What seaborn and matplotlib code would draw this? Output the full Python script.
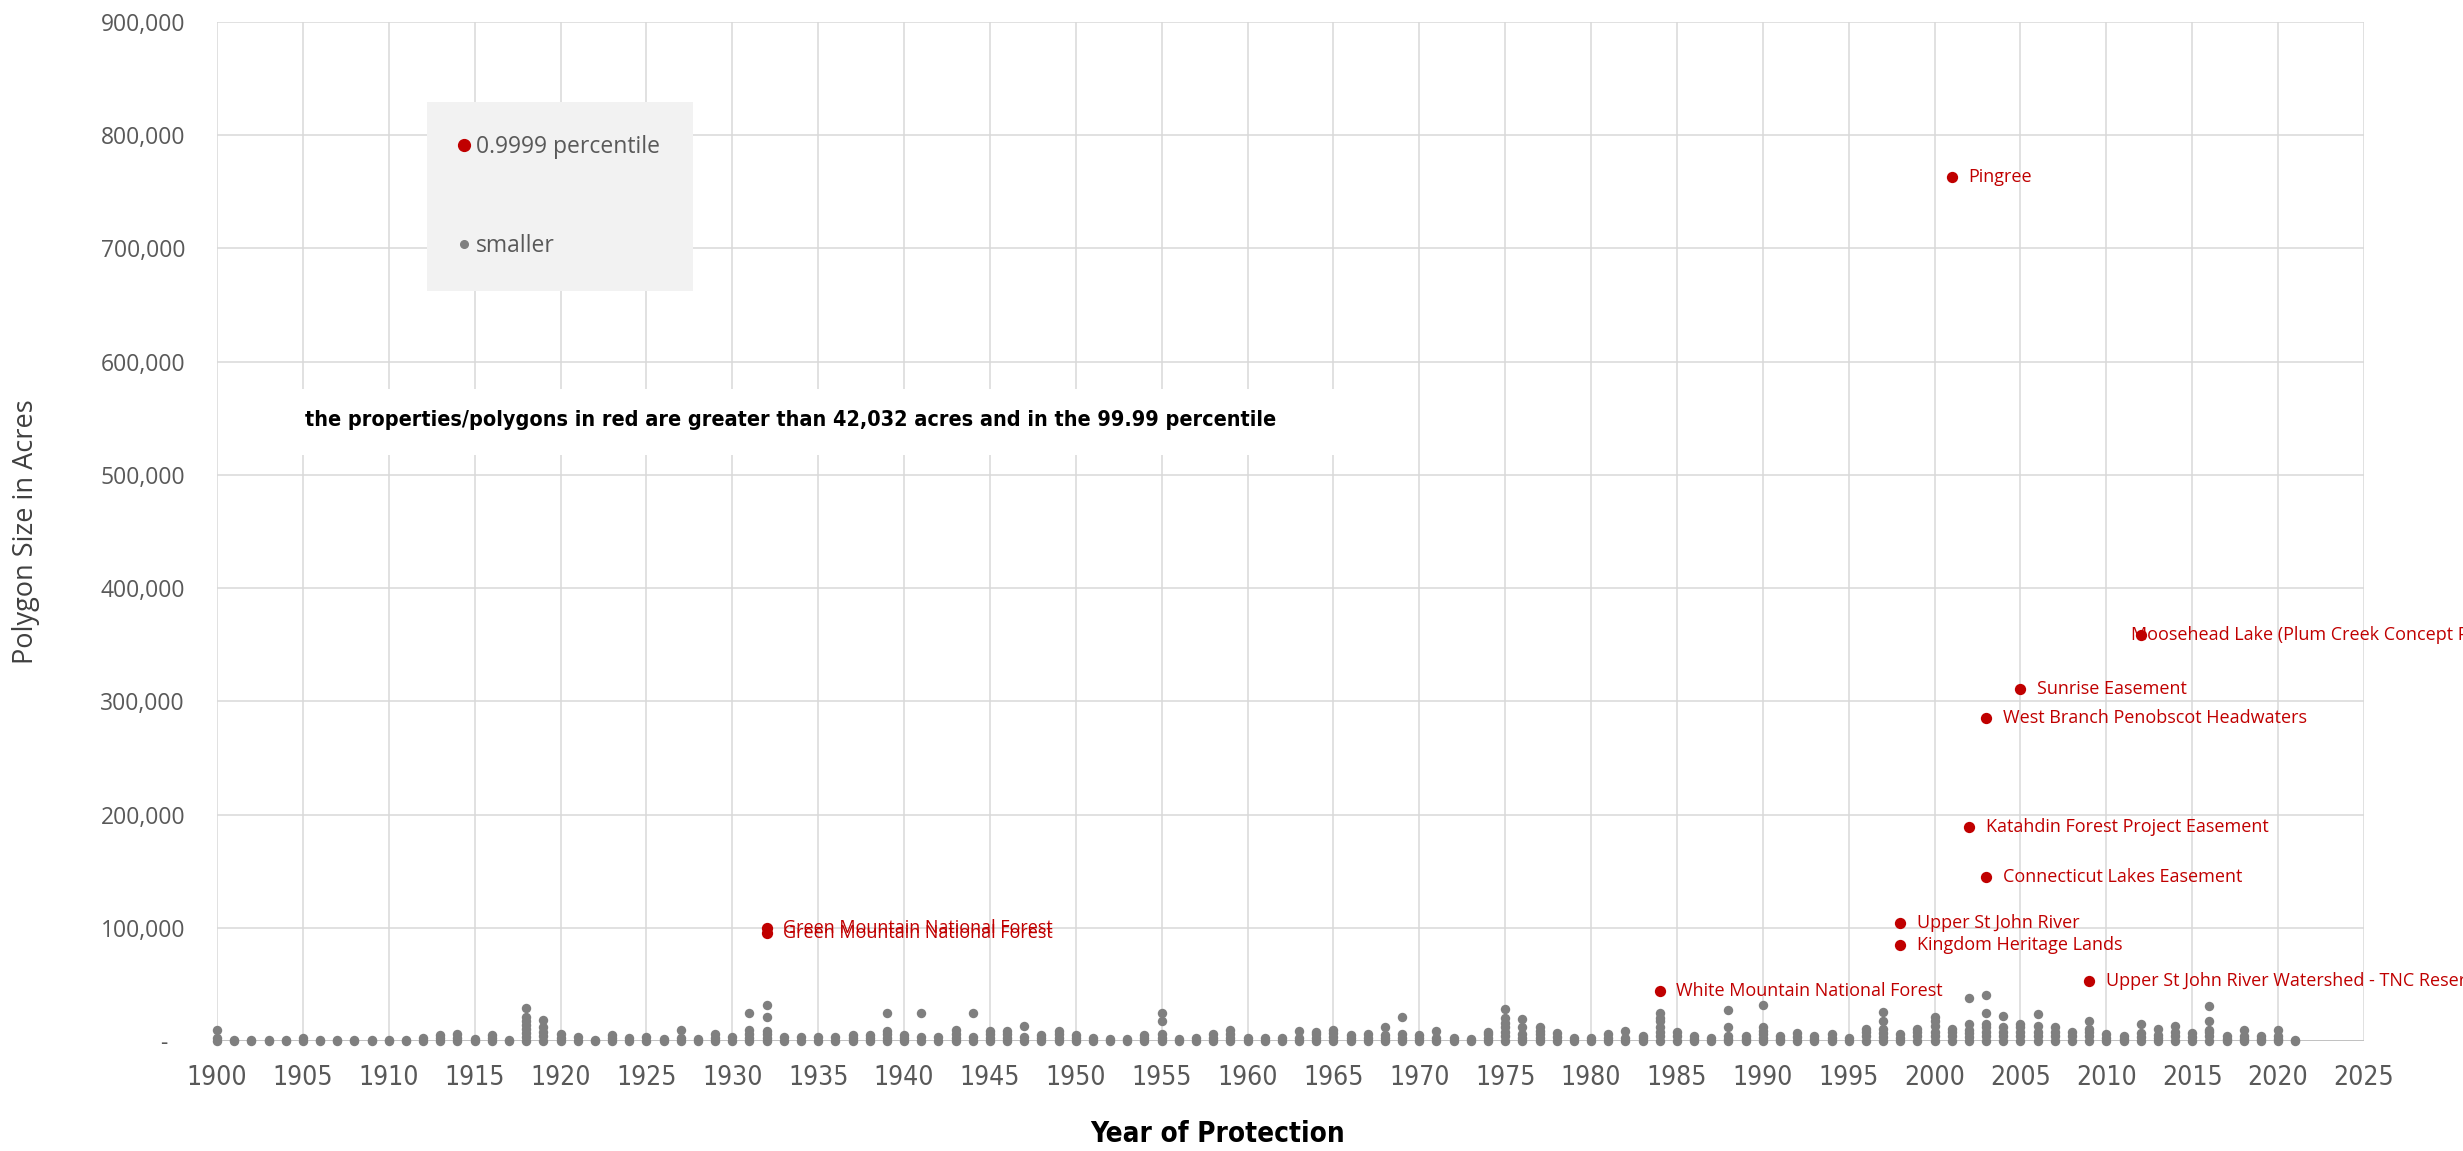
import matplotlib
matplotlib.use("Agg")
import matplotlib.pyplot as plt
import matplotlib.transforms as mtransforms
from matplotlib.lines import Line2D
from matplotlib.patches import Rectangle
from matplotlib.font_manager import FontProperties
import numpy as np
import pandas as pd
import seaborn as sns

# ---------------- data ----------------
years = list(range(1900, 2022))

# acres of the smaller polygons, one list per year (1900 .. 2021)
grey_values = [
    # 1900-1909
    [0, 2500, 9500], [0, 1000], [0, 1000], [0, 1000], [0, 1000],
    [0, 2500], [0, 1000], [0, 1000], [0, 1000], [0, 1000],
    # 1910-1919
    [0, 1000], [0, 1000], [0, 2500], [0, 2500, 5000], [0, 3000, 6500],
    [0, 1500], [0, 2500, 5000], [0, 1000],
    [0, 3500, 7000, 10500, 14000, 17500, 21000, 29500],
    [0, 4000, 8000, 12000, 18500],
    # 1920-1929
    [0, 3000, 6500], [0, 3500], [0, 1000], [0, 2500, 5000], [0, 2500],
    [0, 3500], [0, 1500], [0, 2500, 9500], [0, 2000], [0, 3000, 6500],
    # 1930-1939
    [0, 3500], [0, 3000, 6000, 9500, 24500], [0, 3000, 6000, 8500, 21500, 31500],
    [0, 3500], [0, 3500], [0, 3500], [0, 3500], [0, 3000, 5500], [0, 3000, 5500],
    [0, 3000, 6000, 9000, 25000],
    # 1940-1949
    [0, 3000, 5500], [0, 3500, 25000], [0, 3500], [0, 3000, 6000, 10000],
    [0, 3500, 25000], [0, 3000, 6000, 9000], [0, 3000, 6000, 9000],
    [0, 3500, 13000], [0, 3000, 5500], [0, 3000, 6000, 8500],
    # 1950-1959
    [0, 2500, 5000], [0, 3000], [0, 2000], [0, 2000], [0, 2500, 5500],
    [0, 3000, 6000, 18000, 25000], [0, 2000], [0, 3000], [0, 3000, 6000],
    [0, 3000, 6500, 10000],
    # 1960-1969
    [0, 3000], [0, 3000], [0, 3000], [0, 3000, 9000], [0, 3000, 6000, 8000],
    [0, 3500, 7000, 10000], [0, 2500, 5000], [0, 3000, 6000],
    [0, 2500, 5000, 12000], [0, 3000, 6000, 21000],
    # 1970-1979
    [0, 2500, 5000], [0, 3000, 9000], [0, 3000], [0, 2000], [0, 3000, 6000, 8000],
    [0, 4000, 8000, 12000, 16000, 20000, 28000], [0, 3000, 6000, 12000, 19000],
    [0, 3000, 6000, 9000, 12000], [0, 3500, 7000], [0, 3000],
    # 1980-1989
    [0, 3000], [0, 3000, 6500], [0, 3000, 9000], [0, 2500, 4500],
    [0, 4000, 8000, 12000, 18000, 20500, 25000], [0, 4000, 8000], [0, 2000, 4000],
    [0, 2500], [0, 2000, 4500, 12500, 27000], [0, 2000, 4000],
    # 1990-1999
    [0, 3000, 6000, 9000, 12500, 32000], [0, 2000, 4000], [0, 3500, 7000],
    [0, 2000, 4000], [0, 3000, 6000], [0, 2500], [0, 4000, 8000, 11000],
    [0, 3500, 7000, 11000, 18000, 26000], [0, 3000, 6000], [0, 4000, 8000, 11000],
    # 2000-2009
    [0, 4000, 8000, 13000, 17500, 21000], [0, 4000, 8000, 11000],
    [0, 3500, 7000, 10000, 15000, 38000], [0, 4000, 8000, 12000, 15000, 25000, 41000],
    [0, 4000, 8000, 12500, 22000], [0, 4000, 8000, 12000, 15000],
    [0, 4000, 8000, 13000, 23500], [0, 4000, 8000, 12500], [0, 4000, 8000],
    [0, 4000, 8000, 11000, 17500],
    # 2010-2021
    [0, 3000, 6000], [0, 2000, 4000], [0, 3500, 7000, 15000], [0, 2500, 5000, 11000],
    [0, 4000, 8000, 13000], [0, 3500, 7000], [0, 4000, 8000, 10000, 18000, 31000],
    [0, 2000, 4000], [0, 2000, 4000, 10000], [0, 2000, 4000], [0, 2000, 4000, 10000],
    [0, 1000],
]
assert len(grey_values) == len(years)

red_names = [
    "Pingree",
    "Moosehead Lake (Plum Creek Concept Plan)",
    "Sunrise Easement",
    "West Branch Penobscot Headwaters",
    "Katahdin Forest Project Easement",
    "Connecticut Lakes Easement",
    "Upper St John River",
    "Kingdom Heritage Lands",
    "Upper St John River Watershed - TNC Reserve",
    "White Mountain National Forest",
    "Green Mountain National Forest",
    "Green Mountain National Forest",
]
red_years = [2001, 2012, 2005, 2003, 2002, 2003, 1998, 1998, 2009, 1984, 1932, 1932]
red_acres = [763000, 359000, 311000, 285000, 189000, 145000, 104000, 85000, 53000, 44000, 100000, 95000]

x_ticks = list(range(1900, 2030, 5))
y_ticks = list(range(0, 1000000, 100000))
y_tick_labels = ["-" if v == 0 else f"{v:,}" for v in y_ticks]

legend_labels = ["0.9999 percentile", "smaller"]
note_text = "the properties/polygons in red are greater than 42,032 acres and in the 99.99 percentile"

# ---------------- frame ----------------
rows = []
for yr, vals in zip(years, grey_values):
    for v in vals:
        rows.append({"year": yr, "acres": v, "group": "smaller"})
for nm, yr, v in zip(red_names, red_years, red_acres):
    rows.append({"year": yr, "acres": v, "group": "0.9999 percentile"})
df = pd.DataFrame(rows)

sns.set_style("white")
plt.rcParams["font.family"] = ["Open Sans", "DejaVu Sans"]

RED = "#c00000"
GREY = "#7f7f7f"
GRID = "#d9d9d9"
narrow = ["Liberation Sans Narrow", "DejaVu Sans"]

fig = plt.figure(figsize=(24.63, 11.51), dpi=100)
ax = fig.add_axes([0.0881, 0.0956, 0.8717, 0.8853])

grey_df = df[df["group"] == "smaller"]
red_df = df[df["group"] != "smaller"]
sns.scatterplot(data=grey_df, x="year", y="acres", color=GREY, s=46,
                linewidth=0, ax=ax, legend=False, zorder=3, clip_on=False)
sns.scatterplot(data=red_df, x="year", y="acres", color=RED, s=66,
                linewidth=0, ax=ax, legend=False, zorder=4, clip_on=False)

ax.set_xlim(1900, 2025)
ax.set_ylim(0, 900000)
ax.set_xticks(x_ticks)
ax.set_yticks(y_ticks)
ax.set_yticklabels(y_tick_labels)
ax.set_xticklabels([str(t) for t in x_ticks])

for s in ax.spines.values():
    s.set_visible(False)
ax.set_axisbelow(True)
ax.grid(True, color=GRID, linewidth=1.1)
ax.axhline(0, color="#bfbfbf", linewidth=1.3, zorder=0.6)

ax.tick_params(axis="both", length=0)
ax.tick_params(axis="y", pad=23, labelsize=16.5, labelcolor="#595959")
ax.tick_params(axis="x", pad=17, labelsize=19, labelcolor="#595959")
for lab in ax.get_xticklabels():
    lab.set_fontfamily(narrow)
    lab.set_fontstretch("condensed")

# shift the "-" zero label left like the accounting format
zero_tick = ax.yaxis.get_major_ticks()[0]
zero_tick.label1.set_transform(zero_tick.label1.get_transform() +
                               mtransforms.ScaledTranslation(-0.18, 0, fig.dpi_scale_trans))

ax.set_ylabel("Polygon Size in Acres", fontsize=19.5, color="#404040")
ax.yaxis.set_label_coords(-0.0824, 0.5)
ax.set_xlabel("Year of Protection", fontsize=20, fontweight="bold", color="#000000",
              family=narrow, fontstretch="condensed")
ax.xaxis.set_label_coords(0.466, -0.0775)

# red labels
for nm, yr, v in zip(red_names, red_years, red_acres):
    dx = -7 if nm.startswith("Moosehead") else 12
    ax.annotate(nm, (yr, v), xytext=(dx, 0), textcoords="offset points",
                ha="left", va="center", color=RED, fontsize=13,
                annotation_clip=False, zorder=5)

# note box
ax.add_patch(Rectangle((0.0307, 0.575), 0.49, 0.0648, transform=ax.transAxes,
                       facecolor="white", edgecolor="none", zorder=1))
ax.text(0.041, 0.609, note_text, transform=ax.transAxes, ha="left", va="center",
        fontsize=15.5, fontweight="bold", color="black", family=narrow,
        fontstretch="condensed", zorder=2)

# legend
handles = [Line2D([], [], ls="none", marker="o", color=RED, markersize=8.5),
           Line2D([], [], ls="none", marker="o", color=GREY, markersize=5.5)]
leg = ax.legend(handles, legend_labels, loc="upper left",
                bbox_to_anchor=(0.0978, 0.9215), bbox_transform=ax.transAxes,
                frameon=True, facecolor="#f2f2f2", edgecolor="none", framealpha=1,
                fancybox=False, borderpad=1.45, labelspacing=3.25, handlelength=0.3,
                handletextpad=0.4, borderaxespad=0,
                prop=FontProperties(family="Open Sans", size=16.5), labelcolor="#595959")
leg.set_zorder(6)

fig.savefig("out.png", dpi=100)
